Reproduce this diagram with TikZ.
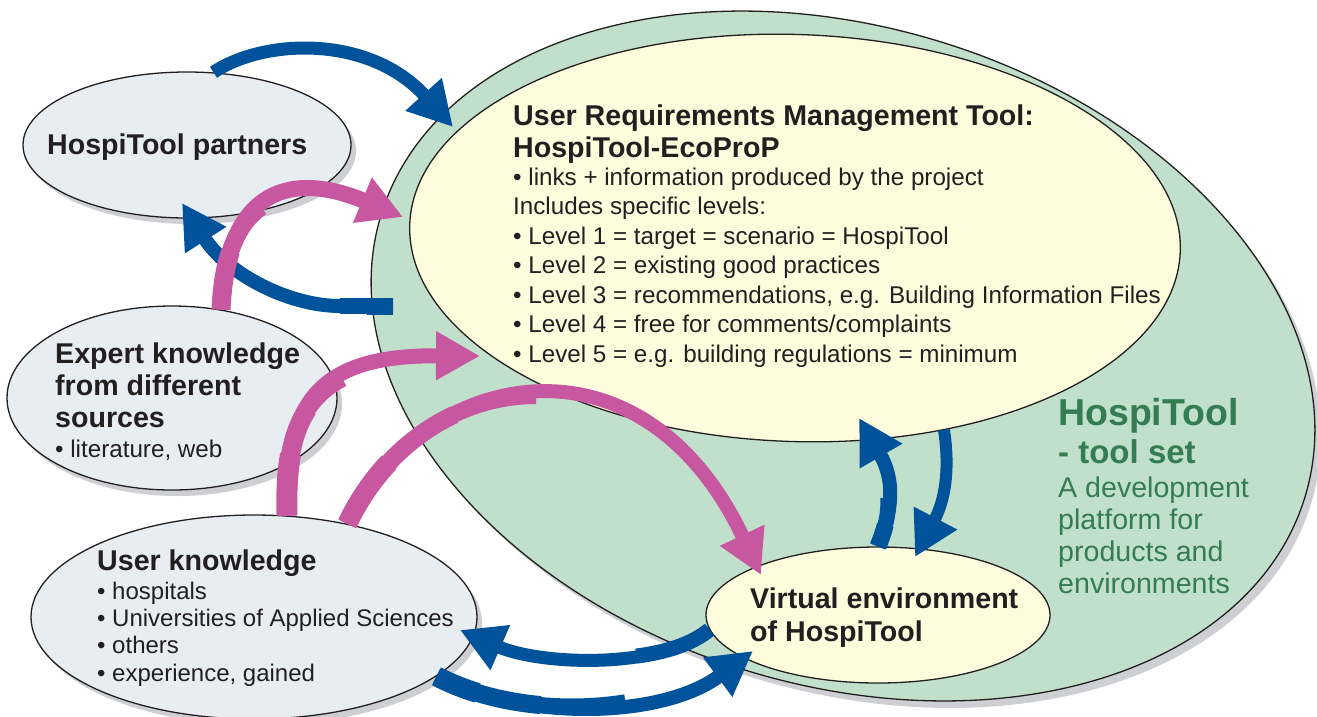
\documentclass[tikz,border=0pt]{standalone}
\usepackage{fontspec}
\setmainfont{Liberation Sans}
\usepackage{tkz-euclide}
\usetikzlibrary{arrows.meta,calc,shapes.geometric}
\definecolor{BlueArrClr}{RGB}{0,82,155}
\definecolor{PinkArrClr}{RGB}{198,87,160}
\definecolor{ToolSetClr}{RGB}{193,224,203}
\definecolor{ToolTxtClr}{RGB}{52,125,82}
\definecolor{ReqClr}{RGB}{255,252,222}
\definecolor{SourceClr}{RGB}{232,237,241}
\definecolor{ShadowClr}{RGB}{205,207,210}
\definecolor{TxtClr}{RGB}{35,31,32}

% thicker first part (up to time #2) of the curve #3 .. #4 and #5 .. #6
\newcommand{\DrawRoot}[6]{%
  \path ($(#3)!#2!(#4)$) coordinate (r1) ($(#4)!#2!(#5)$) coordinate (r2)
        ($(#5)!#2!(#6)$) coordinate (r3);
  \path ($(r1)!#2!(r2)$) coordinate (r4) ($(r2)!#2!(r3)$) coordinate (r5);
  \path ($(r4)!#2!(r5)$) coordinate (r6);
  \draw[#1] (#3) .. controls (r1) and (r4) .. (r6);}

\begin{document}
\begin{tikzpicture}[x=1pt,y=-1pt,
  blob/.style={ellipse,draw=TxtClr,line width=1.3pt,inner sep=0pt},
  shade/.style={ellipse,fill=ShadowClr,inner sep=0pt},
  bluearrow/.style={draw=BlueArrClr,line width=#1,-{Triangle[length=44pt,width=46pt]}},
  pinkarrow/.style={draw=PinkArrClr,line width=#1,-{Triangle[length=44pt,width=46pt]}},
  blueroot/.style={draw=BlueArrClr,line width=#1},
  pinkroot/.style={draw=PinkArrClr,line width=#1},
  headtxt/.style={anchor=base west,align=left,inner sep=0pt,text=TxtClr,
    font=\bfseries\fontsize{28.6}{32}\selectfont},
  bodytxt/.style={anchor=base west,align=left,inner sep=0pt,text=TxtClr,
    font=\fontsize{24.2}{29.5}\selectfont}]
\useasboundingbox (0,0) rectangle (1317,716);

% shadows
\node[shade,minimum width=966pt,minimum height=658pt,rotate=-17] (ToolsetShd) at (849,363) {};
\node[shade,minimum width=328pt,minimum height=146pt] (PartnersShd) at (192,151) {};
\node[shade,minimum width=330pt,minimum height=184pt] (ExpertShd) at (177,404) {};
\node[shade,minimum width=446pt,minimum height=204pt] (UsersShd) at (259,623) {};

% ellipses
\node[blob,fill=ToolSetClr,minimum width=966pt,minimum height=658pt,rotate=-17] (Toolset) at (843,356) {};
\node[blob,fill=ReqClr,minimum width=771pt,minimum height=407pt,rotate=-2] (Req) at (795,238) {};
\node[blob,fill=SourceClr,minimum width=328pt,minimum height=146pt] (Partners) at (187,145) {};
\node[blob,fill=SourceClr,minimum width=330pt,minimum height=184pt] (Expert) at (172,398) {};
\node[blob,fill=SourceClr,minimum width=446pt,minimum height=204pt] (Users) at (254,617) {};
\node[blob,fill=ReqClr,minimum width=344pt,minimum height=136pt] (Virtual) at (878,615) {};

% arrow ends
\tkzDefPoints{393/306/Bk,340/306/Bt,182/203/Pt,453/127/Ur,403/217/Ex,480/356/Ul}
\tkzDefPoints{761/575/Vp,859/418/Vu,944/430/Ud,915/557/Vd,460/630/Uk,753/651/Vk}

% blue arrows
\draw[bluearrow=13pt] (Partners.70) .. controls (265,38) and (370,35) .. (Ur);
\draw[bluearrow=14pt] (Bk) -- (Bt) .. controls (290,306) and (228,275) .. (Pt);
\draw[blueroot=15.5pt] (Bk) -- (Bt);
\draw[blueroot=17pt] (Bk) -- ($(Bk)!0.5!(Bt)$);
\draw[bluearrow=14pt] (Virtual.90) .. controls (893,510) and (895,480) .. (Vu);
\DrawRoot{blueroot=15.5pt}{0.45}{Virtual.90}{893,510}{895,480}{Vu}
\DrawRoot{blueroot=17pt}{0.2}{Virtual.90}{893,510}{895,480}{Vu}
\draw[bluearrow=12pt] (Ud) .. controls (950,470) and (945,500) .. (Vd);
\draw[bluearrow=13pt] (Virtual.185) .. controls (660,670) and (540,665) .. (Uk);
\DrawRoot{blueroot=15pt}{0.35}{Virtual.185}{660,670}{540,665}{Uk}
\draw[bluearrow=14pt] (Users.-18) .. controls (520,720) and (660,720) .. (Vk);
\DrawRoot{blueroot=16pt}{0.6}{Users.-18}{520,720}{660,720}{Vk}
\DrawRoot{blueroot=18pt}{0.35}{Users.-18}{520,720}{660,720}{Vk}
\DrawRoot{blueroot=20pt}{0.15}{Users.-18}{520,720}{660,720}{Vk}

% pink arrows
\draw[pinkarrow=16pt] (Expert.61) .. controls (226,195) and (285,168) .. (Ex);
\DrawRoot{pinkroot=17.5pt}{0.45}{Expert.61}{226,195}{285,168}{Ex}
\DrawRoot{pinkroot=19pt}{0.2}{Expert.61}{226,195}{285,168}{Ex}
\draw[pinkarrow=15pt] (Users.72) .. controls (284,400) and (320,355) .. (Ul);
\DrawRoot{pinkroot=17pt}{0.6}{Users.72}{284,400}{320,355}{Ul}
\DrawRoot{pinkroot=19pt}{0.4}{Users.72}{284,400}{320,355}{Ul}
\DrawRoot{pinkroot=21pt}{0.2}{Users.72}{284,400}{320,355}{Ul}
\draw[pinkarrow=14pt] (Users.45) .. controls (420,370) and (640,320) .. (Vp);
\DrawRoot{pinkroot=16pt}{0.5}{Users.45}{420,370}{640,320}{Vp}
\DrawRoot{pinkroot=18pt}{0.32}{Users.45}{420,370}{640,320}{Vp}
\DrawRoot{pinkroot=20pt}{0.15}{Users.45}{420,370}{640,320}{Vp}

% texts (a node of several lines sits on its last line)
\node[headtxt] (PartnersTxt) at (47,154) {HospiTool partners};
\node[headtxt] (ReqHead) at (513,157) {User Requirements Management Tool:\\HospiTool-EcoProP};
\node[bodytxt] (ReqBody) at (513,362) {• links + information produced by the project\\
  Includes specific levels:\\
  • Level 1 = target = scenario = HospiTool\\
  • Level 2 = existing good practices\\
  • Level 3 = recommendations, e.g. Building Information Files\\
  • Level 4 = free for comments/complaints\\
  • Level 5 = e.g. building regulations = minimum};
\node[headtxt] (ExpertHead) at (55,427) {Expert knowledge\\from different\\sources};
\node[bodytxt] (ExpertBody) at (55,457) {• literature, web};
\node[headtxt] (UsersHead) at (97,570) {User knowledge};
\node[bodytxt,font=\fontsize{24}{27.3}\selectfont] (UsersBody) at (97,681) {• hospitals\\
  • Universities of Applied Sciences\\• others\\• experience, gained};
\node[headtxt,font=\bfseries\fontsize{28.6}{33}\selectfont] (VirtualTxt) at (750,641) {Virtual environment\\of HospiTool};
\node[headtxt,text=ToolTxtClr,font=\bfseries\fontsize{37.5}{38}\selectfont] (ToolHead) at (1058,425) {HospiTool};
\node[headtxt,text=ToolTxtClr,font=\bfseries\fontsize{33}{38}\selectfont] (ToolSub) at (1058,463) {- tool set};
\node[bodytxt,text=ToolTxtClr,font=\fontsize{28.6}{32}\selectfont] (ToolBody) at (1058,593) {A development\\
  platform for\\products and\\environments};
\end{tikzpicture}
\end{document}
